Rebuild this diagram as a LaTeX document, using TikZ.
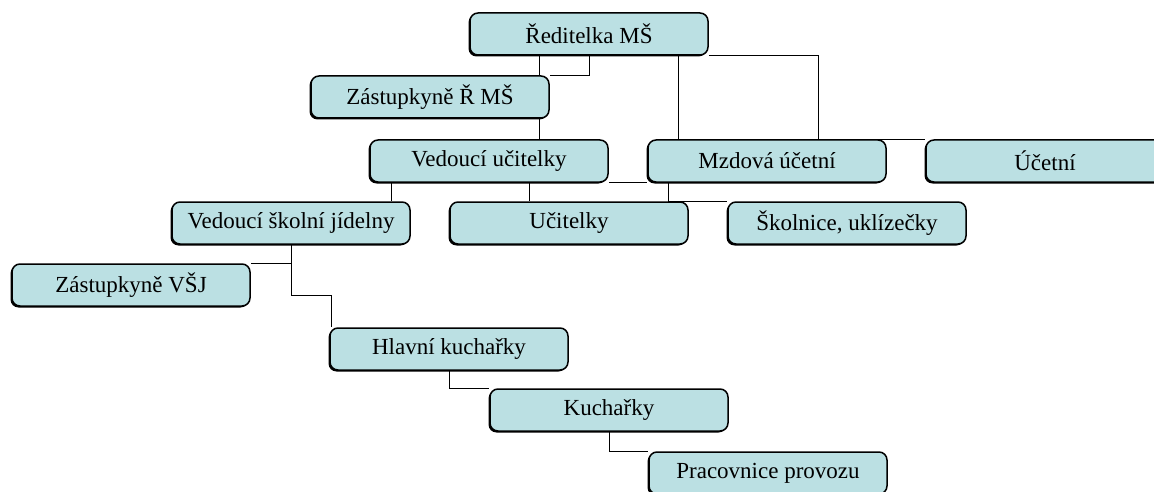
\documentclass[tikz,border=0pt]{standalone}
\usepackage{fontspec}
\setmainfont{Liberation Serif}
\usetikzlibrary{shadows,backgrounds}
\definecolor{boxfill}{RGB}{187,224,227}
\begin{document}
\begin{tikzpicture}[x=1pt,y=-1pt,
  orgbox/.style={rectangle,rounded corners=8pt,draw,line width=1.5pt,fill=boxfill,
    minimum width=238pt,minimum height=42pt,inner sep=0pt,
    font=\fontsize{23}{27}\selectfont,
    drop shadow={shadow xshift=-1.5pt,shadow yshift=-1.5pt,opacity=1,fill=black}},
  link/.style={line width=0.7pt}]
\useasboundingbox (0,0) rectangle (1154,492);
\foreach \name/\x/\y/\txt in {red/589/34/{Ředitelka MŠ},zast/430/97/{Zástupkyně Ř MŠ},
  ved/489/161/{Vedoucí učitelky},mzd/767/161/{Mzdová účetní},uce/1045/161/{Účetní},
  vsj/291/223/{Vedoucí školní jídelny},uci/569/223/{Učitelky},skol/847/223/{Školnice, uklízečky},
  zvsj/131/285/{Zástupkyně VŠJ},hlk/449/349/{Hlavní kuchařky},kuch/609/410/{Kuchařky},
  prac/768/473/{Pracovnice provozu}}
{\node[orgbox](\name) at (\x,\y){\txt};
}
\coordinate (vsjbend) at (331,295);
\begin{scope}[on background layer]
\draw[link] (red.south) |- (zast.north east);
\draw[link] ([xshift=-50pt]red.south) -- ([xshift=-50pt]red.south |- ved.north);
\draw[link] ([xshift=89pt]red.south) -- ([xshift=89pt]red.south |- mzd.north);
\draw[link] (red.south east) -- ++(110pt,0) |- (uce.north west);
\draw[link] (ved.south east) -- (mzd.south west);
\draw[link] ([xshift=-19pt]vsj.north east) -- ([xshift=-19pt]vsj.north east |- ved.south);
\draw[link] ([xshift=40pt]ved.south) -- ([xshift=40pt]ved.south |- uci.north);
\draw[link] ([xshift=-99pt]mzd.south) |- (skol.north west);
\draw[link] (vsj.south) |- (vsjbend) -- (vsjbend |- hlk.north);
\draw[link] (vsj.south |- zvsj.north east) -- (zvsj.north east);
\draw[link] (hlk.south) |- (kuch.north west);
\draw[link] (kuch.south) |- (prac.north west);
\end{scope}
\end{tikzpicture}
\end{document}
